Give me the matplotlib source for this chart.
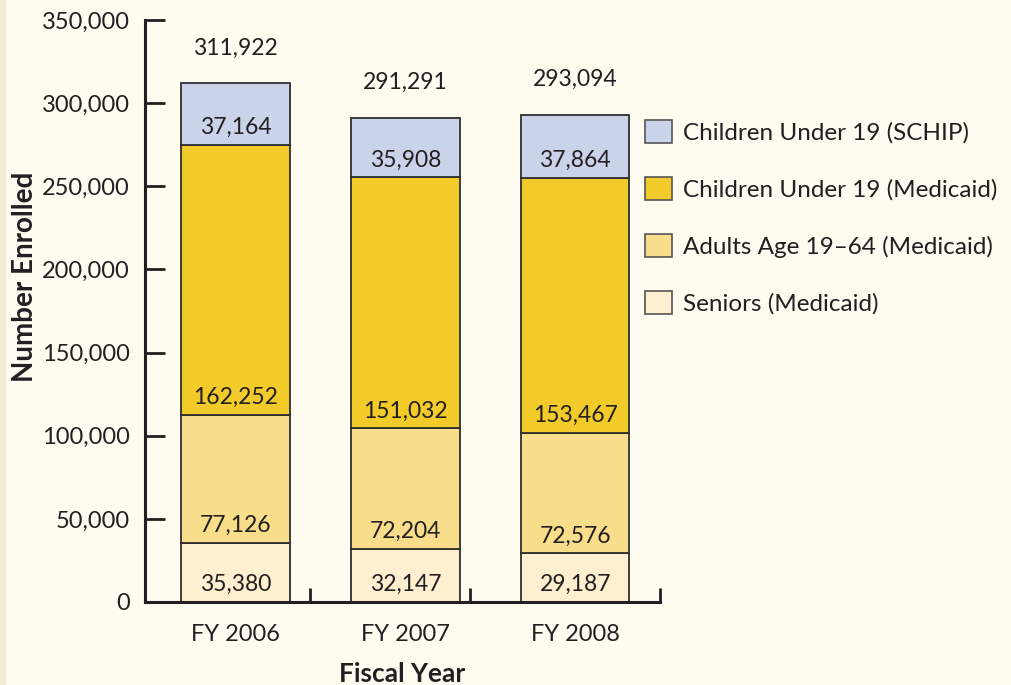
import numpy as np
import matplotlib.pyplot as plt
from matplotlib.patches import Patch

plt.rcParams['font.family'] = ['Lato', 'DejaVu Sans']

years = ['FY 2006', 'FY 2007', 'FY 2008']
seniors = [35380, 32147, 29187]
adults = [77126, 72204, 72576]
kids_medicaid = [162252, 151032, 153467]
kids_schip = [37164, 35908, 37864]

series = [
    ('Seniors (Medicaid)', seniors, '#fdefcf'),
    ('Adults Age 19\u201364 (Medicaid)', adults, '#f8de8b'),
    ('Children Under 19 (Medicaid)', kids_medicaid, '#f2cb2b'),
    ('Children Under 19 (SCHIP)', kids_schip, '#cbd3eb'),
]

BG = '#fefcf1'
INK = '#231f20'

fig = plt.figure(figsize=(10.12, 6.85), dpi=100, facecolor=BG)
ax = fig.add_axes([145/1012, 1-602/685, (660-145)/1012, (602-20)/685])
ax.set_facecolor(BG)

x = np.arange(len(years))
bottom = np.zeros(len(years))
for name, vals, col in series:
    vals = np.array(vals, dtype=float)
    ax.bar(x, vals, width=0.64, bottom=bottom, color=col,
           edgecolor='#2e2e2e', linewidth=1.3, zorder=2)
    for xi, b, v in zip(x, bottom, vals):
        ax.annotate(f'{int(v):,}', (xi, b), xytext=(0, 12.5),
                    textcoords='offset points', ha='center', va='center',
                    fontsize=16.5, color=INK, zorder=3)
    bottom += vals

for xi, tot in zip(x, bottom):
    ax.annotate(f'{int(tot):,}', (xi, tot), xytext=(0, 25.5),
                textcoords='offset points', ha='center', va='center',
                fontsize=16.5, color=INK)

ax.set_xlim(-0.535, 2.5)
ax.set_ylim(0, 350000)
ax.set_yticks(np.arange(0, 350001, 50000))
ax.set_yticklabels([f'{v:,}' for v in range(0, 350001, 50000)],
                   fontsize=17, color=INK)
ax.tick_params(axis='y', direction='in', length=14.5, width=2,
               pad=11, color=INK)

# category labels without tick marks, separators as small upward ticks
ax.set_xticks(x)
ax.set_xticklabels(years, fontsize=17, color=INK)
ax.tick_params(axis='x', length=0, pad=16)
ax.set_xticks([0.436, 1.379, 2.5], minor=True)
ax.tick_params(axis='x', which='minor', direction='in', length=10,
               width=2, color=INK)

for s in ['top', 'right']:
    ax.spines[s].set_visible(False)
for s in ['left', 'bottom']:
    ax.spines[s].set_linewidth(2.2)
    ax.spines[s].set_color(INK)

ax.set_ylabel('Number Enrolled', fontsize=20, fontweight='bold', color=INK)
ax.yaxis.set_label_coords(-0.207, 0.558)
ax.set_xlabel('Fiscal Year', fontsize=19, fontweight='bold', color=INK)
ax.xaxis.set_label_coords(0.5, -0.103)

handles = [Patch(facecolor=col, edgecolor='#555555', linewidth=1.2, label=name)
           for name, vals, col in series[::-1]]
fig.legend(handles=handles, loc='upper left',
           bbox_to_anchor=(645/1012, 1-120/685), frameon=False,
           fontsize=17.5, handlelength=1.1, handleheight=1.1,
           handletextpad=0.45, labelspacing=1.36, borderpad=0,
           borderaxespad=0, labelcolor=INK)

# thin page edge on the left
fig.add_artist(plt.Line2D([3/1012, 3/1012], [0, 1], color='#f3ead2',
                          linewidth=4, transform=fig.transFigure))

fig.savefig('out.png', dpi=100, facecolor=BG)
